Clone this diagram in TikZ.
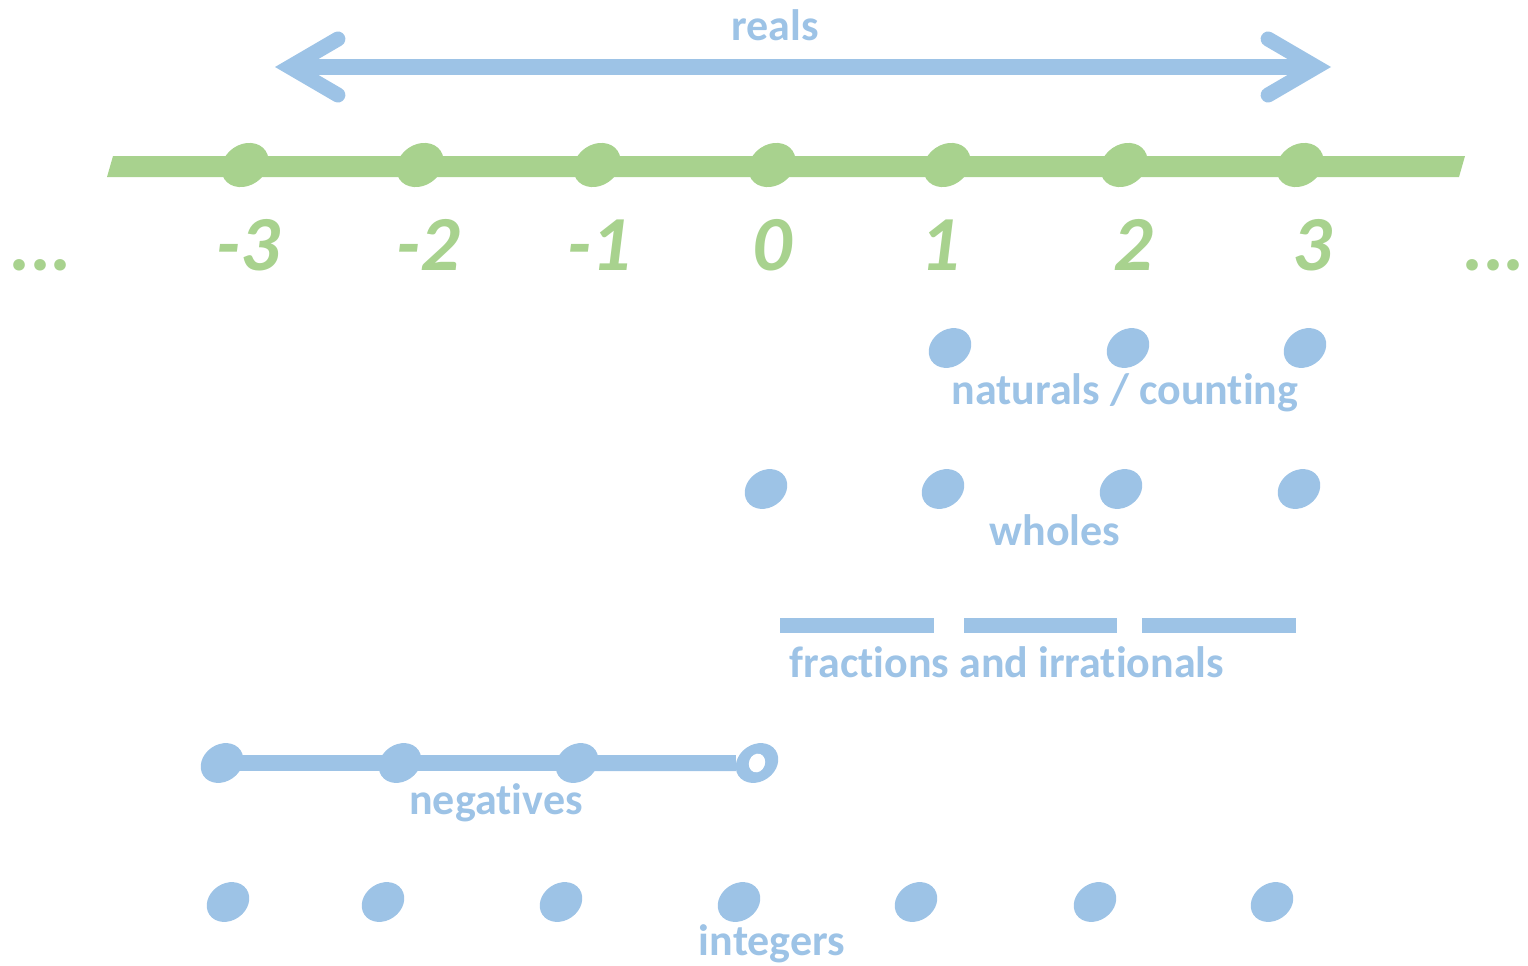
\documentclass[tikz,border=0pt]{standalone}
\usepackage{fontspec}
\setmainfont{Carlito}[Ligatures={NoCommon}]
\usetikzlibrary{arrows.meta,shapes.geometric,backgrounds}
\definecolor{gr}{RGB}{168,210,142}
\definecolor{bl}{RGB}{157,195,230}
\tikzset{
  gdot/.style={ellipse,fill=gr,draw=none,minimum width=50pt,minimum height=41pt,inner sep=0pt,rotate=35},
  bdot/.style={ellipse,fill=bl,draw=none,minimum width=45pt,minimum height=37pt,inner sep=0pt,rotate=35},
  lab/.style={text=bl,font=\fontsize{44}{46}\selectfont\bfseries,anchor=base,inner sep=0pt},
  num/.style={text=gr,font=\fontsize{78}{80}\selectfont\rmfamily\bfseries\itshape,anchor=base,inner sep=0pt},
  barbtip/.tip={Straight Barb[length=48pt,width=56pt,line cap=round]},
}
\begin{document}
\begin{tikzpicture}[x=1pt,y=-1pt]
\useasboundingbox (0,0) rectangle (1528,966);
% reals arrow
\coordinate (rl) at (275,67);
\coordinate (rr) at (1331,67);
\draw[bl,line width=15pt,barbtip-barbtip] (rl) -- (rr);
\node[lab] (reals) at (775,41) {reals};
% green number line
\fill[gr] (113,156) -- (1465,156) -- (1459,177) -- (107,177) -- cycle;
\foreach \x/\n in {245/m3,420/m2,597/m1,772/z,947/p1,1124/p2,1300/p3}{
  \node[gdot] (g\n) at (\x,165) {};
}
\node[num] (lm3) at (248,270) {-3};
\node[num] (lm2) at (428,270) {-2};
\node[num] (lm1) at (599,270) {-1};
\node[num] (lz) at (772,270) {0};
\node[num] (lp1) at (940,270) {1};
\node[num] (lp2) at (1133,270) {2};
\node[num] (lp3) at (1312,270) {3};
\node[num,anchor=base west] (dl) at (10,270) {...};
\node[num,anchor=base east] (dr) at (1526,270) {...};
% naturals
\foreach \x/\n in {950/1,1128/2,1305/3}{
  \node[bdot] (nat\n) at (\x,348) {};
}
\node[lab] (natl) at (1125,404) {naturals / counting};
% wholes
\foreach \x/\n in {766/0,943/1,1121/2,1299/3}{
  \node[bdot] (wh\n) at (\x,489) {};
}
\node[lab] (whl) at (1055,545) {wholes};
% fractions
\fill[bl] (780,618) rectangle (934,633);
\fill[bl] (964,618) rectangle (1117,633);
\fill[bl] (1142,618) rectangle (1296,633);
\node[lab] (frl) at (1007,677) {fractions and irrationals};
% negatives
\node[bdot] (ng1) at (222,763) {};
\node[bdot] (ng2) at (400,763) {};
\node[bdot] (ng3) at (577,763) {};
\node[bdot] (ng4) at (757,763) {};
\node[ellipse,fill=white,minimum width=19pt,minimum height=16pt,inner sep=0pt,rotate=70] (hole) at (757,763) {};
\begin{pgfonlayer}{background}
\draw[bl,line width=16pt] (ng1.center) -- (ng2.center);
\draw[bl,line width=16pt] (ng2.center) -- (ng3.center);
\draw[bl,line width=16pt] (ng3.center) -- (ng4);
\end{pgfonlayer}
\node[lab] (ngl) at (496,814) {negatives};
% integers
\foreach \x/\n in {228/1,383/2,561/3,739/4,916/5,1095/6,1272/7}{
  \node[bdot] (in\n) at (\x,902) {};
}
\node[lab] (inl) at (772,955) {integers};
\end{tikzpicture}
\end{document}
